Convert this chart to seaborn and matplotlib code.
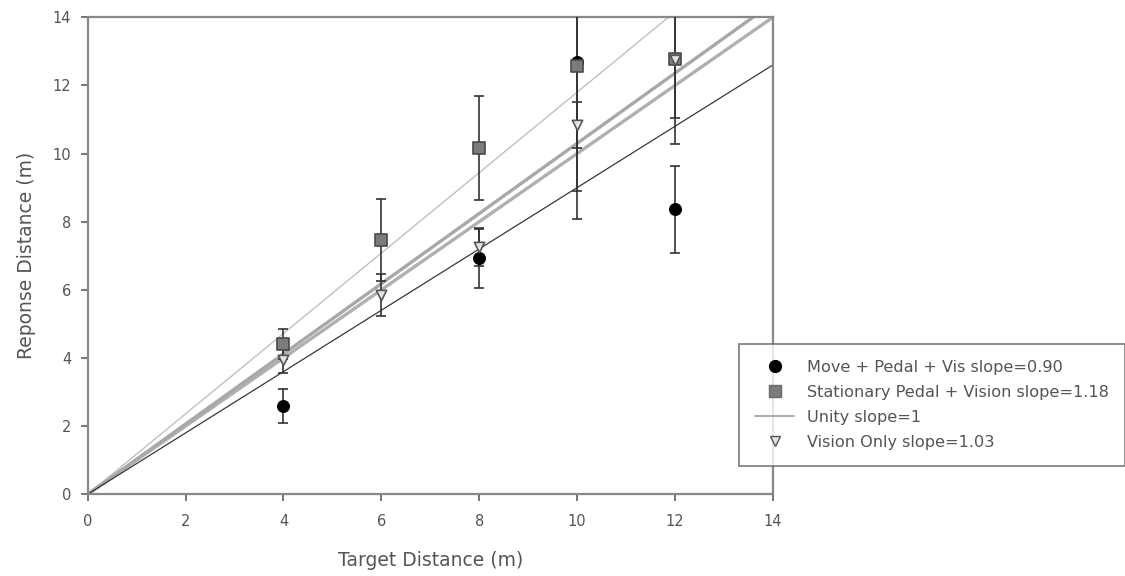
import numpy as np
import pandas as pd
import seaborn as sns
import matplotlib.pyplot as plt
from matplotlib.lines import Line2D

# data
targets = [4, 6, 8, 10, 12]
move_resp = [2.6, np.nan, 6.92, 12.69, 8.36]
move_err = [0.5, np.nan, 0.87, 3.8, 1.28]
stat_resp = [4.42, 7.47, 10.17, 12.57, 12.77]
stat_err = [0.44, 1.2, 1.53, 4.5, 2.48]
vis_resp = [3.93, 5.84, 7.26, 10.83, 12.76]
vis_err = [0.38, 0.62, 0.56, 0.68, 1.73]

fit_x = [0, 14]
slope_move = 0.90
slope_stat = 1.18
slope_unity = 1.0
slope_vis = 1.03

legend_labels = ['Move + Pedal + Vis slope=0.90',
                 'Stationary Pedal + Vision slope=1.18',
                 'Unity slope=1',
                 'Vision Only slope=1.03']

sns.set_style('white')
plt.rcParams['font.family'] = ['Liberation Sans', 'DejaVu Sans']
txt_font = 'DejaVu Sans'

fig = plt.figure(figsize=(11.25, 5.76), dpi=100)
ax = fig.add_axes([0.078, 0.142, 0.609, 0.828])

# fit lines
lines = pd.DataFrame({'x': fit_x * 4,
                      'y': [slope_stat * v for v in fit_x] + [slope_unity * v for v in fit_x]
                           + [slope_vis * v for v in fit_x] + [slope_move * v for v in fit_x],
                      'name': ['stat'] * 2 + ['unity'] * 2 + ['vis'] * 2 + ['move'] * 2})
line_style = {'stat': ('#c0c0c0', 1.0), 'unity': ('#b0b0b0', 2.4),
              'vis': ('#a8a8a8', 2.4), 'move': ('#383838', 0.9)}
for name, grp in lines.groupby('name', sort=False):
    c, lw = line_style[name]
    sns.lineplot(data=grp, x='x', y='y', ax=ax, color=c, linewidth=lw, zorder=2)

# error bars
ax.errorbar(targets, move_resp, yerr=move_err, fmt='none', ecolor='#333333',
            elinewidth=1.2, capsize=3.7, capthick=1.2, zorder=3)
ax.errorbar(targets, stat_resp, yerr=stat_err, fmt='none', ecolor='#333333',
            elinewidth=1.2, capsize=3.7, capthick=1.2, zorder=3)
ax.errorbar(targets, vis_resp, yerr=vis_err, fmt='none', ecolor='#333333',
            elinewidth=1.2, capsize=3.7, capthick=1.2, zorder=3)

# points
pts = pd.DataFrame({'x': targets * 3,
                    'y': move_resp + stat_resp + vis_resp,
                    'grp': ['move'] * 5 + ['stat'] * 5 + ['vis'] * 5})
sns.scatterplot(data=pts[pts.grp == 'move'], x='x', y='y', ax=ax, marker='o',
                color='black', edgecolor='black', s=75, zorder=4)
sns.scatterplot(data=pts[pts.grp == 'stat'], x='x', y='y', ax=ax, marker='s',
                color='#7c7c7c', edgecolor='#4a4a4a', linewidth=1.2, s=80, zorder=5)
sns.scatterplot(data=pts[pts.grp == 'vis'], x='x', y='y', ax=ax, marker='v',
                color='#e4e4e4', edgecolor='#555555', linewidth=1.2, s=55, zorder=6)

ax.set_xlim(0, 14)
ax.set_ylim(0, 14)
ax.set_xticks(range(0, 15, 2))
ax.set_yticks(range(0, 15, 2))
ax.set_xlabel('Target Distance (m)', fontsize=13.5, color='#555555', labelpad=16,
              fontfamily=txt_font)
ax.set_ylabel('Reponse Distance (m)', fontsize=13.5, color='#555555', labelpad=12,
              fontfamily=txt_font)
ax.tick_params(axis='both', direction='out', length=5, width=1.3, colors='#6a6a6a',
               labelcolor='#555555', labelsize=10.5, bottom=True, left=True)
ax.tick_params(axis='x', pad=9)
ax.tick_params(axis='y', pad=7)
for lbl in ax.get_xticklabels() + ax.get_yticklabels():
    lbl.set_fontfamily(txt_font)
for sp in ax.spines.values():
    sp.set_color('#888888')
    sp.set_linewidth(1.6)

handles = [
    Line2D([], [], linestyle='none', marker='o', markersize=8.5, color='black'),
    Line2D([], [], linestyle='none', marker='s', markersize=8, markerfacecolor='#7c7c7c',
           markeredgecolor='#6a6a6a'),
    Line2D([], [], color='#b0b0b0', linewidth=1.5),
    Line2D([], [], linestyle='none', marker='v', markersize=7, markerfacecolor='#e4e4e4',
           markeredgecolor='#555555'),
]
leg = fig.legend(handles, legend_labels, loc='upper left', bbox_to_anchor=(0.657, 0.403),
                 borderaxespad=0, frameon=True, fancybox=False,
                 prop={'family': txt_font, 'size': 11.6},
                 handlelength=2.4, borderpad=1.0, labelspacing=0.62, handletextpad=0.8,
                 labelcolor='#555555')
leg.get_frame().set_edgecolor('#666666')
leg.get_frame().set_linewidth(1.3)

fig.savefig('out.png', dpi=100)
